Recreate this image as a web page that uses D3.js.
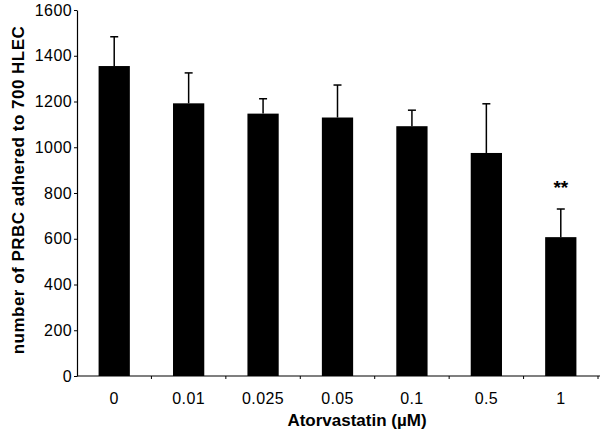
<!DOCTYPE html>
<html>
<head>
    <script src="https://cdnjs.cloudflare.com/ajax/libs/d3/7.8.5/d3.min.js"></script>
    <style>
        body { margin: 0; background: #fff; }
        .tick text { font-family: "Liberation Sans", Arial, sans-serif; font-size: 16px; letter-spacing: 0.4px; fill: #000; }
        .title { font-family: "Liberation Sans", Arial, sans-serif; font-size: 17px; font-weight: bold; fill: #000; }
    </style>
</head>
<body>
    <div id="chart"></div>
    <script>
        const width = 600, height = 439;

        const doses = ["0", "0.01", "0.025", "0.05", "0.1", "0.5", "1"];
        const means = [1355, 1192, 1147, 1130, 1092, 975, 607];
        const errors = [128, 133, 65, 142, 70, 215, 123];
        const yTicks = [0, 200, 400, 600, 800, 1000, 1200, 1400, 1600];
        const marks = ["", "", "", "", "", "", "**"];

        const svg = d3.select("#chart").append("svg")
            .attr("width", width).attr("height", height);

        const x = d3.scaleBand()
            .domain(doses)
            .range([77, 598])
            .paddingInner(0.58)
            .paddingOuter(0.29);

        const y = d3.scaleLinear()
            .domain([0, 1600])
            .range([376, 10]);

        const step = x.step();

        // bars
        svg.append("g")
            .selectAll("rect")
            .data(doses)
            .enter().append("rect")
            .attr("x", d => x(d))
            .attr("y", (d, i) => y(means[i]))
            .attr("width", x.bandwidth())
            .attr("height", (d, i) => y(0) - y(means[i]))
            .attr("fill", "#000");

        // error bars (upper only)
        const err = svg.append("g").attr("stroke", "#000").attr("stroke-width", 1.5);
        doses.forEach((d, i) => {
            const cx = x(d) + x.bandwidth() / 2;
            err.append("line")
                .attr("x1", cx).attr("x2", cx)
                .attr("y1", y(means[i])).attr("y2", y(means[i] + errors[i]));
            err.append("line")
                .attr("x1", cx - 4).attr("x2", cx + 4)
                .attr("y1", y(means[i] + errors[i])).attr("y2", y(means[i] + errors[i]));
        });

        // significance marks
        svg.append("g")
            .selectAll("text")
            .data(doses)
            .enter().append("text")
            .attr("x", d => x(d) + x.bandwidth() / 2)
            .attr("y", (d, i) => y(means[i] + errors[i]) - 15)
            .attr("text-anchor", "middle")
            .attr("class", "title")
            .style("font-size", "19px")
            .text((d, i) => marks[i]);

        // y axis
        const yAxis = svg.append("g")
            .attr("transform", "translate(77,0)")
            .call(d3.axisLeft(y).tickValues(yTicks).tickFormat(d3.format("d"))
                .tickSize(3).tickPadding(2).tickSizeOuter(0));
        yAxis.select(".domain").attr("stroke", "#000").attr("stroke-width", 1.2);
        yAxis.selectAll(".tick line").attr("stroke", "#000");

        // x axis: line with ticks at band boundaries
        const xg = svg.append("g");
        xg.append("line")
            .attr("x1", 77).attr("x2", 600)
            .attr("y1", y(0)).attr("y2", y(0))
            .attr("stroke", "#000").attr("stroke-width", 1.2);
        xg.selectAll("line.xt")
            .data(doses)
            .enter().append("line")
            .attr("class", "xt")
            .attr("x1", d => x(d) + x.bandwidth() + (step - x.bandwidth()) / 2)
            .attr("x2", d => x(d) + x.bandwidth() + (step - x.bandwidth()) / 2)
            .attr("y1", y(0)).attr("y2", y(0) + 3)
            .attr("stroke", "#000");
        xg.selectAll("g.tick")
            .data(doses)
            .enter().append("g")
            .attr("class", "tick")
            .append("text")
            .attr("x", d => x(d) + x.bandwidth() / 2)
            .attr("y", 404)
            .attr("text-anchor", "middle")
            .text(d => d);

        // axis titles
        svg.append("text")
            .attr("class", "title")
            .attr("x", 357).attr("y", 426)
            .attr("text-anchor", "middle")
            .text("Atorvastatin (\u00b5M)");

        svg.append("text")
            .attr("class", "title")
            .attr("transform", "translate(24,190) rotate(-90)")
            .attr("text-anchor", "middle")
            .style("letter-spacing", "0.5px")
            .text("number of PRBC adhered to 700 HLEC");
    </script>
</body>
</html>
